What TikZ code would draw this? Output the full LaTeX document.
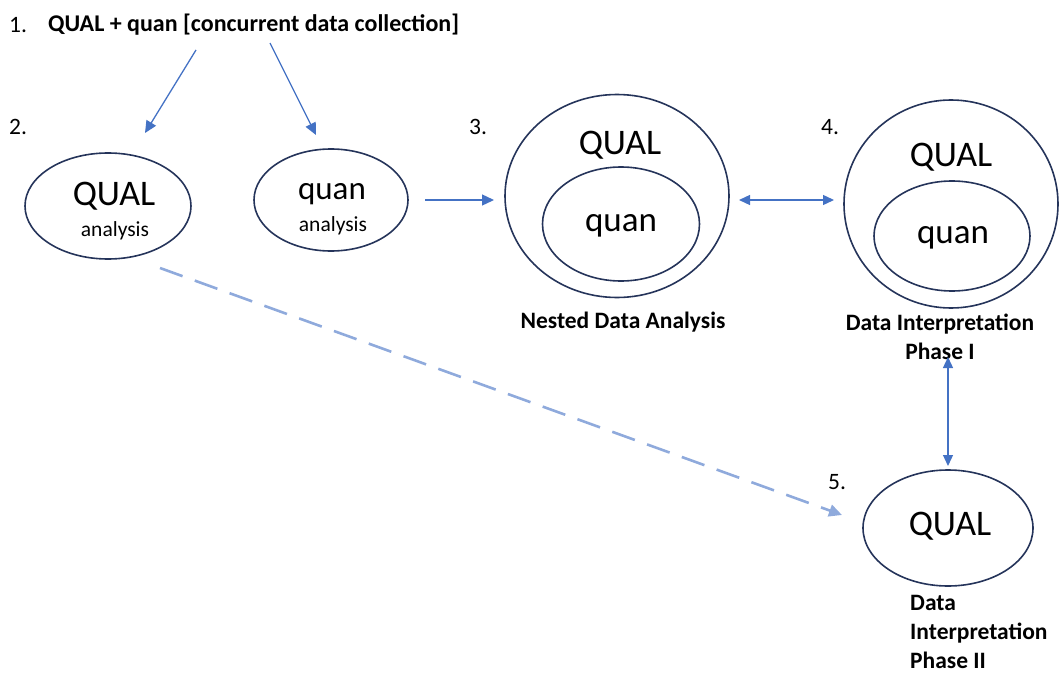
\documentclass[tikz,border=0pt]{standalone}
\usepackage{fontspec}
\setmainfont{Carlito}
\usetikzlibrary{shapes.geometric,arrows.meta}
\definecolor{ring}{HTML}{25345A}
\definecolor{arrowblue}{HTML}{4472C4}
\definecolor{dashblue}{HTML}{8FAADC}
\tikzset{
  ring/.style={draw=ring,line width=1.6pt,ellipse,inner sep=0pt},
  flow/.style={draw=arrowblue,line width=1.3pt,-{Triangle[length=12pt,width=11pt]}},
  twoway/.style={draw=arrowblue,line width=1.3pt,{Triangle[length=11pt,width=10pt]}-{Triangle[length=11pt,width=10pt]}},
  later/.style={draw=dashblue,line width=2.6pt,dash pattern=on 24pt off 13pt,-{Triangle[length=13pt,width=12pt]}},
  big/.style={font=\fontsize{36}{40}\selectfont},
  mid/.style={font=\fontsize{33}{36}\selectfont},
  midb/.style={font=\fontsize{35}{38}\selectfont},
  small/.style={font=\fontsize{21.5}{24}\selectfont},
  label/.style={font=\fontsize{23.5}{29}\selectfont\bfseries,align=center,inner sep=0pt},
  num/.style={font=\fontsize{23.5}{26}\selectfont,anchor=west,inner sep=0pt},
}
\begin{document}
\begin{tikzpicture}[x=1pt,y=-1pt]
\useasboundingbox (0,0) rectangle (1060,674);

% step 1: collection
\node[num] (n1) at (9,25) {1.};
\node[anchor=west,inner sep=0pt,font=\fontsize{24}{26}\selectfont\bfseries] (collect) at (48,25) {QUAL + quan [concurrent data collection]};

% step 2: separate analyses
\node[num] (n2) at (9,127) {2.};
\node[ring,minimum width=166pt,minimum height=106pt] (qualA) at (108,206) {};
\node[big] (qualAt) at (114,196) {QUAL};
\node[small] (qualAs) at (115,231) {analysis};

\node[ring,minimum width=154pt,minimum height=102pt] (quanA) at (331,200) {};
\node[mid] (quanAt) at (332,194) {quan};
\node[small] (quanAs) at (333,226) {analysis};

% step 3: nested analysis
\node[num] (n3) at (469,127) {3.};
\node[ring,minimum width=224pt,minimum height=203pt] (nest) at (617,196) {};
\node[ring,minimum width=157pt,minimum height=114pt] (nestIn) at (621,224) {};
\node[big] (nestQ) at (620,145) {QUAL};
\node[midb] (nestq) at (621,226) {quan};
\node[label] (nestL) at (623,322) {Nested Data Analysis};

% step 4: interpretation phase I
\node[num] (n4) at (821,127) {4.};
\node[ring,minimum width=214pt,minimum height=208pt] (interp) at (951,204) {};
\node[ring,minimum width=156pt,minimum height=110pt] (interpIn) at (952,236) {};
\node[big] (interpQ) at (951,157) {QUAL};
\node[midb] (interpq) at (953,238) {quan};
\node[label] (interpL) at (940,337) {Data Interpretation\\Phase I};

% step 5: interpretation phase II
\node[num] (n5) at (828,482) {5.};
\node[ring,minimum width=170pt,minimum height=116pt] (final) at (948,528) {};
\node[big] (finalQ) at (950,526) {QUAL};
\node[label,align=left,anchor=west] (finalL) at (910,632) {Data\\Interpretation\\Phase II};

% connector end points
\coordinate (c1a) at (196,50);
\coordinate (c1b) at (145,133);
\coordinate (c2a) at (270,43);
\coordinate (c2b) at (316,135);
\coordinate (c3a) at (425,200);
\coordinate (c3b) at (494,200);
\coordinate (c4a) at (739,200);
\coordinate (c4b) at (834,200);
\coordinate (c5a) at (948,357);
\coordinate (c5b) at (948,466);
\coordinate (c6a) at (160,268);
\coordinate (c6b) at (842,515);

\draw[flow] (c1a) -- (c1b);
\draw[flow] (c2a) -- (c2b);
\draw[flow] (c3a) -- (c3b);
\draw[twoway] (c4a) -- (c4b);
\draw[twoway] (c5a) -- (c5b);
\draw[later] (c6a) -- (c6b);
\end{tikzpicture}
\end{document}
